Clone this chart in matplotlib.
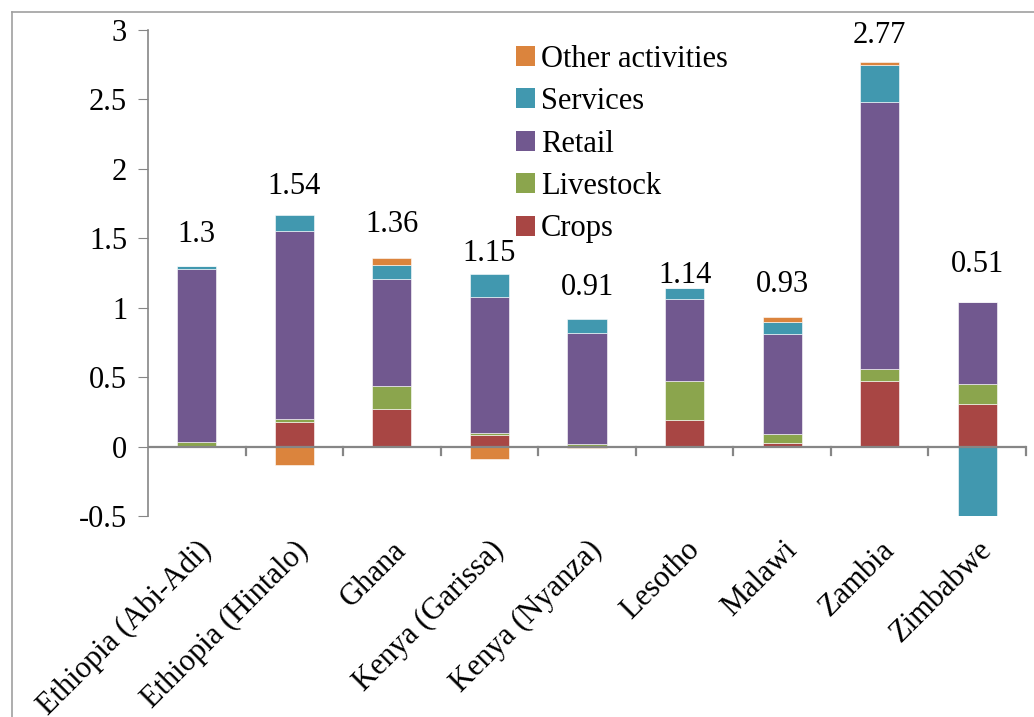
import numpy as np
import matplotlib
matplotlib.use("Agg")
import matplotlib.pyplot as plt
from matplotlib.lines import Line2D
from matplotlib.patches import Patch

plt.rcParams["font.family"] = "Liberation Serif"
FS = 22

sites = ["Ethiopia (Abi-Adi)", "Ethiopia (Hintalo)", "Ghana", "Kenya (Garissa)",
         "Kenya (Nyanza)", "Lesotho", "Malawi", "Zambia", "Zimbabwe"]
crops     = [0.00, 0.18, 0.27, 0.08, 0.005, 0.19, 0.025, 0.47, 0.31]
livestock = [0.03, 0.02, 0.165, 0.02, 0.015, 0.28, 0.065, 0.09, 0.14]
retail    = [1.25, 1.35, 0.775, 0.98, 0.80, 0.59, 0.72, 1.92, 0.59]
services  = [0.02, 0.12, 0.10, 0.16, 0.10, 0.08, 0.09, 0.27, -0.53]
other     = [0.00, -0.13, 0.05, -0.09, -0.01, 0.00, 0.03, 0.02, 0.00]
totals    = [1.3, 1.54, 1.36, 1.15, 0.91, 1.14, 0.93, 2.77, 0.51]

series = [("Crops", crops, "#A84644"),
          ("Livestock", livestock, "#8BA54D"),
          ("Retail", retail, "#71588F"),
          ("Services", services, "#4198AF"),
          ("Other activities", other, "#DB843D")]

# pixel gap between top of each stack and the centre of its total label
label_pad = [32, 28, 33, 21, 31, 13, 33, 26, 38]

fig = plt.figure(figsize=(10.34, 7.17), dpi=100)
ax = fig.add_axes([0.1431, 0.2803, 0.8492, 0.6779])

x = np.arange(len(sites))
pos_base = np.zeros(len(sites))
neg_base = np.zeros(len(sites))
for name, vals, col in series:
    v = np.array(vals, dtype=float)
    base = np.where(v >= 0, pos_base, neg_base)
    ax.bar(x, v, 0.4, bottom=base, color=col, edgecolor="white", linewidth=0.4, zorder=3)
    pos_base += np.where(v >= 0, v, 0)
    neg_base += np.where(v < 0, v, 0)

for i, t in enumerate(totals):
    ax.annotate(f"{t:g}", (x[i], pos_base[i]), xytext=(0, label_pad[i]),
                textcoords="offset pixels", ha="center", va="center", fontsize=FS)

ax.set_xlim(-0.5, len(sites) - 0.5)
ax.set_ylim(-0.5, 3)
ax.set_yticks([-0.5, 0, 0.5, 1, 1.5, 2, 2.5, 3])
ax.set_yticklabels(["-0.5", "0", "0.5", "1", "1.5", "2", "2.5", "3"], fontsize=FS)
ax.set_xticks(x)
ax.set_xticklabels(sites, rotation=45, ha="right", va="top", rotation_mode="anchor", fontsize=FS)
ax.tick_params(axis="x", length=0, pad=14)
ax.tick_params(axis="y", length=7, color="#868686", pad=8)

for s in ["top", "right", "bottom"]:
    ax.spines[s].set_visible(False)
ax.spines["left"].set_color("#868686")
ax.spines["left"].set_linewidth(1.2)

# category axis at zero with ticks between groups
ax.axhline(0, color="#868686", lw=1.6, zorder=4)
for b in np.arange(0.5, len(sites), 1.0):
    ax.plot([b, b], [0, -0.06], color="#868686", lw=1.6, clip_on=False, zorder=4)

handles = [Patch(facecolor=c, edgecolor="none") for _, _, c in series][::-1]
names = [n for n, _, _ in series][::-1]
ax.legend(handles, names, loc="upper left", bbox_to_anchor=(0.405, 0.995), frameon=False,
          fontsize=FS, handlelength=0.62, handleheight=0.62, handletextpad=0.2,
          labelspacing=0.44, borderaxespad=0.0)

# outer chart border
fig.add_artist(Line2D([12 / 1034, 12 / 1034], [0, 1 - 12 / 717], color="#A0A0A0", lw=1.2))
fig.add_artist(Line2D([12 / 1034, 1], [1 - 12 / 717, 1 - 12 / 717], color="#A0A0A0", lw=1.2))

fig.savefig("out.png", dpi=100)
